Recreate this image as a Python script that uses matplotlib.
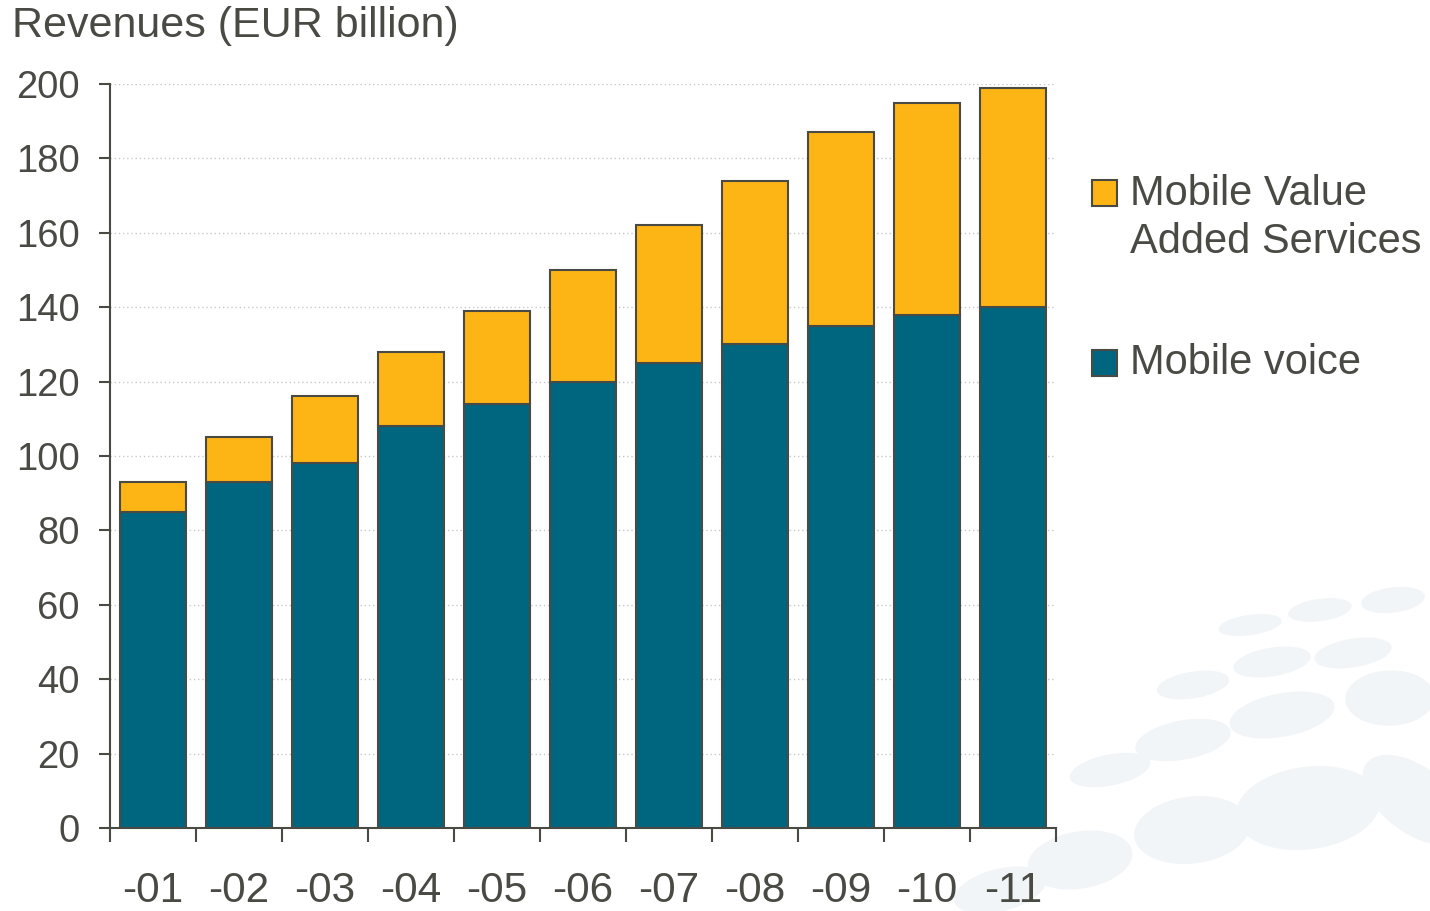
import matplotlib.pyplot as plt
from matplotlib.patches import Ellipse, Rectangle

# Data (EUR billion)
years = ["-01", "-02", "-03", "-04", "-05", "-06", "-07", "-08", "-09", "-10", "-11"]
voice = [85, 93, 98, 108, 114, 120, 125, 130, 135, 138, 140]
vas = [8, 12, 18, 20, 25, 30, 37, 44, 52, 57, 59]

TEAL = "#00667F"
GOLD = "#FDB515"
EDGE = "#4A4A45"
TEXT = "#4A4A45"
W, H = 1430, 911

plt.rcParams["font.family"] = ["Liberation Sans", "DejaVu Sans"]

fig = plt.figure(figsize=(14.3, 9.11), dpi=100)
fig.patch.set_facecolor("white")

# faint decorative background blobs (bottom right)
blobs = [
    (1308, 808, 150, 80, 30), (1192, 830, 120, 65, 30), (1415, 800, 80, 100, 30),
    (1282, 715, 110, 42, 22), (1183, 740, 100, 38, 22), (1390, 698, 90, 55, 25),
    (1353, 653, 80, 28, 18), (1272, 662, 80, 28, 18), (1193, 685, 75, 26, 18),
    (1393, 600, 65, 25, 15), (1320, 610, 65, 22, 15), (1250, 625, 65, 20, 15),
    (1110, 770, 85, 30, 22), (1080, 860, 110, 55, 30), (1000, 890, 100, 40, 30),
]
for cx, cy, bw, bh, ang in blobs:
    fig.add_artist(Ellipse((cx / W, 1 - cy / H), bw / W, bh / H, angle=ang,
                           facecolor="#F1F5F7", edgecolor="none", zorder=0,
                           transform=fig.transFigure))

ax = fig.add_axes([110 / W, 1 - 828 / H, (1056 - 110) / W, (828 - 84) / H])
ax.patch.set_alpha(0)

x = range(len(years))
ax.bar(x, voice, width=0.77, color=TEAL, edgecolor=EDGE, linewidth=1.5, zorder=3)
ax.bar(x, vas, width=0.77, bottom=voice, color=GOLD, edgecolor=EDGE, linewidth=1.5, zorder=3)

ax.set_xlim(-0.5, len(years) - 0.5)
ax.set_ylim(0, 200)
ax.set_yticks(range(0, 201, 20))
ax.yaxis.grid(True, linestyle=(0, (1, 2)), color="#C8C8C8", linewidth=1, zorder=0)
ax.set_axisbelow(True)

ax.set_xticks(list(x))
ax.set_xticklabels(years)
ax.set_xticks([i - 0.5 for i in range(len(years) + 1)], minor=True)
ax.tick_params(axis="x", which="major", length=0, pad=31, labelsize=30.5, labelcolor=TEXT)
ax.tick_params(axis="x", which="minor", length=10, width=1.5, color=EDGE, direction="out")
ax.tick_params(axis="y", length=8, width=1.5, color=EDGE, pad=14, labelsize=27.5, labelcolor=TEXT)

for s in ("top", "right"):
    ax.spines[s].set_visible(False)
for s in ("left", "bottom"):
    ax.spines[s].set_color(EDGE)
    ax.spines[s].set_linewidth(1.5)

fig.text(12 / W, 1 - 26 / H, "Revenues (EUR billion)", ha="left", va="center",
         fontsize=31, color=TEXT)

# legend drawn by hand to match layout
legend_items = [("Mobile Value\nAdded Services", GOLD, 193, 218), ("Mobile voice", TEAL, 363, 363)]
for label, col, sq_y, txt_y in legend_items:
    fig.add_artist(Rectangle((1092 / W, 1 - (sq_y + 13) / H), 25 / W, 26 / H,
                             facecolor=col, edgecolor=EDGE, linewidth=1.5,
                             transform=fig.transFigure))
    fig.text(1130 / W, 1 - txt_y / H, label, ha="left", va="center",
             fontsize=30, color=TEXT, linespacing=1.27)

fig.savefig("out.png", dpi=100)
